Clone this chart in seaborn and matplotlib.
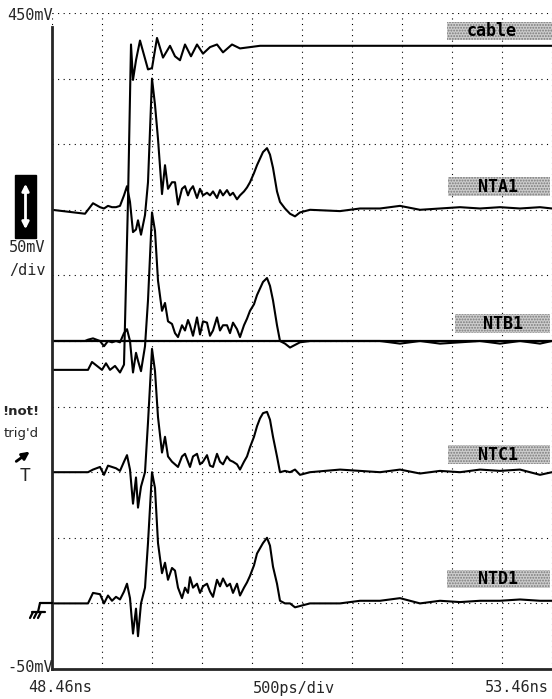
import numpy as np
import pandas as pd
import matplotlib
matplotlib.use("Agg")
import matplotlib.pyplot as plt
import seaborn as sns
from matplotlib.patches import Rectangle, FancyArrowPatch
from matplotlib.lines import Line2D

# ---------------- data (time in ns, voltage in mV) ----------------
time_ns = [48.46, 48.79, 48.82, 48.87, 48.94, 48.98, 49.02, 49.06, 49.10, 49.14,
           49.18, 49.21, 49.24, 49.27, 49.30, 49.32, 49.35, 49.39, 49.42, 49.46,
           49.49, 49.52, 49.56, 49.59, 49.62, 49.66, 49.69, 49.72, 49.76, 49.79,
           49.82, 49.84, 49.87, 49.91, 49.94, 49.97, 50.01, 50.04, 50.07, 50.11,
           50.14, 50.17, 50.21, 50.24, 50.27, 50.31, 50.34, 50.38, 50.41, 50.44,
           50.48, 50.51, 50.54, 50.57, 50.61, 50.64, 50.67, 50.71, 50.74, 50.79,
           50.84, 50.89, 50.94, 51.04, 51.34, 51.54, 51.74, 51.94, 52.14, 52.34,
           52.54, 52.74, 52.94, 53.14, 53.34, 53.46]

nta1_mv = [300, 297, 300, 305, 302, 301, 303, 302, 302, 303,
           311, 318, 306, 283, 285, 292, 281, 296, 321, 400,
           380, 354, 312, 334, 316, 321, 321, 304, 316, 318,
           311, 315, 318, 309, 316, 311, 313, 311, 314, 309,
           315, 311, 315, 311, 313, 308, 311, 314, 317, 321,
           328, 334, 339, 344, 347, 342, 332, 314, 306, 301,
           297, 295, 298, 300, 299, 301, 301, 303, 300, 301,
           302, 301, 302, 301, 302, 301]

ntb1_mv = [200, 200, 201, 202, 200, 196, 200, 199, 200, 199,
           206, 209, 200, 176, 191, 185, 177, 196, 231, 298,
           284, 246, 223, 229, 215, 213, 206, 203, 212, 208,
           216, 212, 204, 218, 205, 215, 214, 204, 208, 218,
           208, 212, 212, 206, 214, 209, 203, 212, 217, 223,
           228, 235, 240, 245, 248, 242, 231, 212, 200, 198,
           195, 197, 199, 200, 200, 200, 200, 198, 200, 198,
           199, 200, 198, 200, 198, 200]

ntc1_mv = [100, 100, 100, 102, 104, 98, 105, 104, 103, 101,
           108, 113, 102, 76, 96, 73, 89, 100, 138, 194,
           177, 142, 115, 127, 112, 108, 106, 104, 112, 114,
           108, 104, 112, 114, 106, 108, 113, 105, 104, 114,
           108, 106, 112, 109, 108, 106, 102, 108, 112, 119,
           127, 135, 141, 145, 146, 140, 127, 112, 100, 101,
           100, 102, 98, 100, 102, 101, 100, 102, 99, 101,
           100, 102, 101, 102, 98, 100]

ntd1_mv = [0, 0, 0, 8, 7, 0, 6, 2, 5, 3,
           9, 15, 4, -23, -4, -25, 0, 12, 46, 100,
           88, 46, 23, 31, 18, 27, 25, 12, 4, 12,
           8, 20, 12, 15, 8, 13, 15, 9, 5, 18,
           13, 19, 13, 15, 8, 15, 6, 12, 16, 21,
           29, 38, 42, 46, 50, 44, 28, 15, 2, 0,
           0, -3, -2, 0, 0, 2, 2, 4, 0, 2,
           1, 2, 2, 3, 2, 2]

cable_time_ns = [48.46, 48.82, 48.86, 48.91, 48.96, 49.00, 49.04, 49.09, 49.14, 49.18,
                 49.22, 49.25, 49.27, 49.30, 49.34, 49.38, 49.42, 49.46, 49.51, 49.57,
                 49.64, 49.69, 49.74, 49.79, 49.85, 49.91, 49.97, 50.04, 50.11, 50.17,
                 50.26, 50.34, 50.44, 50.54, 50.84, 53.46]
cable_mv = [178, 178, 184, 181, 178, 183, 178, 181, 176, 182,
            307, 426, 399, 414, 429, 418, 407, 408, 431, 416,
            425, 417, 414, 426, 417, 426, 419, 424, 426, 420,
            426, 423, 424, 425, 425, 425]

trace_names = ["cable", "NTA1", "NTB1", "NTC1", "NTD1"]
ref_level_mv = 200

# ---------------- figure ----------------
sns.set_style("white")
plt.rcParams["font.family"] = ["DejaVu Sans Mono", "DejaVu Sans"]
plt.rcParams["hatch.color"] = "#7a7a7a"
plt.rcParams["hatch.linewidth"] = 0.9

W, H = 552, 699
fig = plt.figure(figsize=(W / 100, H / 100), dpi=100)
ax = fig.add_axes([52 / W, 1 - 669 / H, 500 / W, 656 / H])


def fx(x):
    return x / W


def fy(y):
    return 1 - y / H


frames = [pd.DataFrame({"time": cable_time_ns, "mV": cable_mv, "trace": "cable"})]
for name, vals in zip(trace_names[1:], [nta1_mv, ntb1_mv, ntc1_mv, ntd1_mv]):
    frames.append(pd.DataFrame({"time": time_ns, "mV": vals, "trace": name}))
df = pd.concat(frames, ignore_index=True)

sns.lineplot(data=df, x="time", y="mV", hue="trace", units="trace", estimator=None,
             sort=False, palette=["black"] * 5, legend=False, lw=1.5, ax=ax)
ax.axhline(ref_level_mv, color="black", lw=1.6)

ax.set_xlim(48.46, 53.46)
ax.set_ylim(-50, 450)
ax.set_xticks(np.arange(48.46, 53.47, 0.5))
ax.set_yticks(np.arange(-50, 451, 50))
ax.grid(True, ls=(0, (1, 4)), color="black", lw=0.8)
ax.tick_params(length=0, labelbottom=False, labelleft=False)
ax.set_xlabel("")
ax.set_ylabel("")
for s in ["top", "right"]:
    ax.spines[s].set_visible(False)
ax.spines["left"].set_linewidth(2)
ax.spines["bottom"].set_linewidth(2)
ax.spines["left"].set_bounds(-50, 439)
ax.set_facecolor("white")

# ---------------- axis texts ----------------
fs = 11
fig.text(fx(53), fy(15), "450mV", ha="right", va="center", fontsize=fs)
fig.text(fx(53), fy(667), "-50mV", ha="right", va="center", fontsize=fs)
fig.text(fx(60), fy(688), "48.46ns", ha="center", va="center", fontsize=fs)
fig.text(fx(294), fy(688), "500ps/div", ha="center", va="center", fontsize=fs)
fig.text(fx(549), fy(688), "53.46ns", ha="right", va="center", fontsize=fs)
fig.text(fx(27), fy(248), "50mV", ha="center", va="center", fontsize=fs)
fig.text(fx(27), fy(270), "/div", ha="center", va="center", fontsize=fs)

# vertical scale box with double arrow
fig.add_artist(Rectangle((fx(15), fy(238)), 21 / W, 63 / H, transform=fig.transFigure,
                         facecolor="black", edgecolor="black"))
fig.add_artist(FancyArrowPatch((fx(25.5), fy(232)), (fx(25.5), fy(181)),
                               transform=fig.transFigure, arrowstyle="<|-|>",
                               mutation_scale=10, color="white", lw=2))

# trigger notice
fig.text(fx(21), fy(412), "!not!", ha="center", va="center", fontsize=9.5,
         fontweight="bold", family=["DejaVu Sans"])
fig.text(fx(21), fy(433), "trig'd", ha="center", va="center", fontsize=9.5,
         family=["DejaVu Sans"])
fig.add_artist(FancyArrowPatch((fx(14), fy(463)), (fx(32), fy(450)),
                               transform=fig.transFigure, arrowstyle="-|>",
                               mutation_scale=11, color="black", lw=2))
fig.text(fx(25), fy(476), "T", ha="center", va="center", fontsize=13)

# ground symbol
for (x0, y0, x1, y1) in [(40, 603, 52, 603), (40, 603, 38, 612), (32, 612, 45, 612),
                         (33, 612, 30, 618), (37, 612, 34, 618), (41, 612, 38, 618)]:
    fig.add_artist(Line2D([fx(x0), fx(x1)], [fy(y0), fy(y1)], transform=fig.transFigure,
                          color="black", lw=1.6))

# trace label boxes
boxes = {
    "cable": (447, 22, 552, 40, 492, 31),
    "NTA1": (448, 177, 550, 196, 498, 187),
    "NTB1": (455, 314, 550, 333, 503, 324),
    "NTC1": (448, 445, 550, 464, 498, 455),
    "NTD1": (447, 570, 550, 588, 498, 579),
}
for name in trace_names:
    x0, y0, x1, y1, tx, ty = boxes[name]
    fig.add_artist(Rectangle((fx(x0), fy(y1)), (x1 - x0) / W, (y1 - y0) / H,
                             transform=fig.transFigure, facecolor="#cdcdcd",
                             edgecolor="#7a7a7a", hatch="......", lw=0))
    fig.text(fx(tx), fy(ty), name, ha="center", va="center", fontsize=12,
             fontweight="bold", color="black")

fig.savefig("out.png", dpi=100, facecolor="white")
